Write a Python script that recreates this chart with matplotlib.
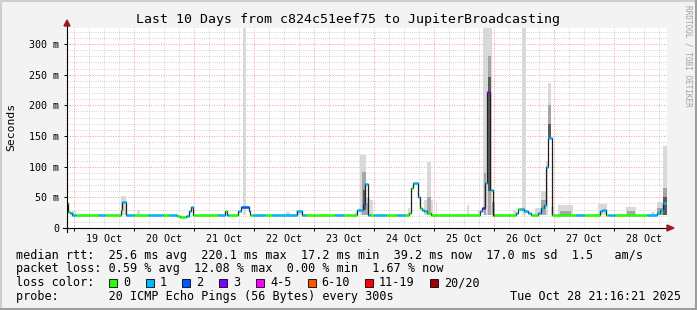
import matplotlib
matplotlib.use("Agg")
import matplotlib.pyplot as plt
from matplotlib.patches import Rectangle, Polygon
from matplotlib.lines import Line2D

W, H = 697, 310
MONO = "DejaVu Sans Mono"

# ---------------- data (time in hours since 18 Oct 21:16:21) ----------------
seg_start_h = [0.0, 0.4, 1.2, 2.0, 3.6, 12.8, 15.2, 21.4, 22.0, 23.4, 26.8, 32.4, 38.4, 40.8,
               44.0, 45.2, 47.6, 48.8, 49.4, 50.4, 60.4, 63.2, 63.8, 64.8, 68.4, 69.4, 72.6, 73.2,
               74.4, 79.2, 82.0, 91.8, 94.0, 95.6, 107.2, 110.4, 116.0, 118.2, 119.2, 120.2, 121.2,
               122.8, 127.4, 132.0, 135.2, 136.6, 137.4, 138.4, 140.2, 141.2, 141.8, 142.8, 144.0,
               145.6, 165.2, 166.0, 167.0, 168.0, 169.0, 170.2, 170.8, 179.6, 180.4, 181.2, 182.8,
               184.4, 185.6, 188.4, 189.6, 190.8, 191.6, 192.4, 193.8, 203.6, 206.8, 213.2, 214.0,
               215.4, 216.4, 219.2, 231.8, 236.0, 237.2, 238.4]
median_ms = [41, 26, 24, 21, 21, 21, 21, 29, 43, 21, 21, 21, 21, 21,
             19, 17.5, 19, 28, 35, 21, 21, 28, 21, 21, 28, 34, 27, 21,
             21, 21, 21, 27, 21, 21, 21, 21, 30, 39, 72, 21, 21,
             21, 21, 21, 21, 24, 66, 74, 51, 33, 29, 27, 24,
             21, 27, 32, 73, 221, 62, 21, 21, 25, 30.5, 30.5, 27,
             24, 21, 24, 32, 37.5, 100, 146, 21, 21, 21, 27, 30,
             21, 21, 21, 21, 24, 29, 40]
loss_pings = [0, 0, 1, 1, 0, 1, 0, 0, 1, 1, 0, 1, 0, 1,
              0, 0, 1, 1, 1, 0, 1, 0, 1, 0, 1, 2, 1, 0,
              1, 0, 1, 1, 1, 0, 1, 0, 1, 2, 1, 1, 0,
              1, 0, 1, 0, 0, 0, 1, 1, 0, 1, 1, 0,
              0, 1, 3, 1, 3, 1, 20, 0, 1, 0, 1, 1,
              1, 0, 1, 1, 1, 1, 1, 0, 1, 0, 1, 1,
              0, 1, 0, 1, 1, 1, 1]
end_h = 240.0

# smoke: start h, end h, low ms, high ms, shade (0 light, 1 mid, 2 dark)
smoke_t0 = [1.9, 21.6, 27.9, 70.3, 87.6, 91.6, 115.2, 117.2, 118.0, 118.4, 119.6, 119.6, 121.2,
            136.4, 142.8, 143.9, 143.9, 145.6, 147.4, 160.0, 164.4, 166.3, 166.6, 167.6, 168.3,
            168.5, 169.8, 178.4, 181.9, 187.2, 189.6, 189.6, 191.6, 192.3, 192.3, 192.3, 193.6,
            196.3, 197.0, 212.4, 223.5, 224.0, 233.6, 236.0, 236.0, 238.4, 238.4, 238.4]
smoke_t1 = [3.6, 23.6, 29.2, 71.6, 89.2, 94.4, 116.4, 119.6, 119.6, 119.6, 121.2, 120.8, 122.4,
            137.2, 144.0, 145.6, 145.6, 146.4, 148.2, 160.8, 165.6, 167.6, 167.6, 169.8, 169.6,
            169.4, 171.2, 179.6, 183.6, 189.6, 191.6, 191.6, 192.3, 193.6, 193.6, 193.6, 194.8,
            202.3, 201.6, 216.0, 227.6, 227.2, 235.2, 238.4, 238.4, 240.0, 240.0, 240.0]
smoke_lo = [21, 21, 21, 21, 21, 21, 21, 21, 21, 30, 21, 21, 21,
            21, 21, 21, 21, 21, 21, 21, 21, 21, 21, 21, 21,
            60, 21, 21, 21, 21, 21, 21, 21, 146, 146, 146, 21,
            21, 21, 21, 21, 21, 21, 21, 21, 21, 21, 21]
smoke_hi = [27, 52, 29, 330, 26, 30, 26, 119, 92, 62, 51, 40, 46,
            33, 45, 108, 51, 46, 42, 37, 30, 330, 90, 330, 280,
            246, 43, 29, 330, 33, 60, 45, 110, 236, 200, 170, 35,
            37, 28, 39, 34, 28, 26, 43, 33, 133, 65, 50]
smoke_shade = [0, 0, 0, 0, 0, 0, 0, 0, 1, 2, 0, 1, 0,
               0, 0, 0, 1, 0, 0, 0, 0, 0, 1, 0, 1,
               2, 1, 0, 0, 0, 0, 1, 0, 0, 1, 2, 0,
               0, 1, 0, 0, 1, 0, 0, 1, 0, 1, 2]

loss_levels = [0, 1, 2, 3, 4, 6, 11, 20]
loss_labels = ["0", "1", "2", "3", "4-5", "6-10", "11-19", "20/20"]
loss_colors = ["#26ff00", "#00b8ff", "#0059ff", "#7e00ff", "#ff00ff", "#ff5500", "#ff0000", "#a00000"]

day_labels = ["19 Oct", "20 Oct", "21 Oct", "22 Oct", "23 Oct", "24 Oct", "25 Oct", "26 Oct", "27 Oct", "28 Oct"]
first_midnight_h = 24 - (21 + 16 / 60 + 21 / 3600)

title = "Last 10 Days from c824c51eef75 to JupiterBroadcasting"
stat_lines = ["median rtt:  25.6 ms avg  220.1 ms max  17.2 ms min  39.2 ms now  17.0 ms sd  1.5   am/s",
              "packet loss: 0.59 % avg  12.08 % max  0.00 % min  1.67 % now"]
probe_text = "probe:       20 ICMP Echo Pings (56 Bytes) every 300s"
stamp_text = "Tue Oct 28 21:16:21 2025"

# ---------------- helpers ----------------
def fx(x):
    return x / W

def fy(y):
    return 1 - y / H

def loss_color(n):
    col = loss_colors[0]
    for lv, c in zip(loss_levels, loss_colors):
        if n >= lv:
            col = c
    return col

fig = plt.figure(figsize=(W / 100, H / 100), dpi=100, facecolor="#f3f3f3")

PL, PR, PT, PB = 67, 667, 28, 228
ax = fig.add_axes([fx(PL), fy(PB), fx(PR - PL), (PB - PT) / H])
ax.set_facecolor("white")
ax.set_xlim(0, end_h)
ax.set_ylim(0, (PB - PT) / (184 / 300))
for s in ax.spines.values():
    s.set_visible(False)

# grid
ymax = ax.get_ylim()[1]
for v in range(10, int(ymax) + 1, 10):
    if v % 50:
        ax.axhline(v, color="#c4c4c4", lw=0.6, ls=(0, (1, 1.6)), zorder=0.5)
h = first_midnight_h - 24
while h < end_h:
    for k in range(1, 4):
        t = h + 6 * k
        if 0 < t < end_h:
            ax.axvline(t, color="#c4c4c4", lw=0.6, ls=(0, (1, 1.6)), zorder=0.5)
    h += 24
for v in range(50, int(ymax) + 1, 50):
    ax.axhline(v, color="#f59a9a", lw=0.7, ls=(0, (1, 1.6)), zorder=0.6)
midnights = [first_midnight_h + 24 * i for i in range(len(day_labels))]
for m in midnights:
    ax.axvline(m, color="#f59a9a", lw=0.7, ls=(0, (1, 1.6)), zorder=0.6)

# smoke
shade_cols = ["#d9d9d9", "#a6a6a6", "#5a5a5a"]
for level in range(3):
    for t0, t1, lo, hi, sh in zip(smoke_t0, smoke_t1, smoke_lo, smoke_hi, smoke_shade):
        if sh == level:
            ax.bar(t0, hi - lo, width=t1 - t0, bottom=lo, align="edge",
                   color=shade_cols[sh], linewidth=0, zorder=1 + level * 0.1)

# median line (black step) + loss coloured segments
xs = seg_start_h + [end_h]
ys = median_ms + [median_ms[-1]]
ax.step(xs, ys, where="post", color="#202020", lw=0.9, zorder=2)
for i, (t0, m, n) in enumerate(zip(seg_start_h, median_ms, loss_pings)):
    t1 = xs[i + 1]
    ax.plot([t0, t1], [m, m], color=loss_color(n), lw=1.8, solid_capstyle="butt", zorder=3)

# ticks
ax.set_yticks(range(0, 301, 50))
ax.set_yticklabels(["0"] + [f"{v} m" for v in range(50, 301, 50)])
ax.set_xticks(midnights)
ax.set_xticklabels([""] * len(midnights))
ax.set_xticks([m + 12 for m in midnights], minor=True)
ax.set_xticklabels(day_labels, minor=True)
ax.tick_params(axis="y", which="major", length=2, width=0.7, pad=3.6, labelsize=7.2,
               direction="out", color="black")
ax.tick_params(axis="x", which="major", length=2.5, width=0.7, direction="out", color="black")
ax.tick_params(axis="x", which="minor", length=0, pad=4.3, labelsize=7.2)
for lab in ax.get_yticklabels() + ax.get_xticklabels(minor=True):
    lab.set_fontfamily(MONO)

# axis lines and arrows
fig.add_artist(Line2D([fx(63), fx(668)], [fy(PB), fy(PB)], color="black", lw=0.8, zorder=5))
fig.add_artist(Line2D([fx(PL), fx(PL)], [fy(232), fy(25)], color="black", lw=0.8, zorder=5))
fig.add_artist(Polygon([(fx(667), fy(225)), (fx(667), fy(231)), (fx(674), fy(PB))],
                       closed=True, color="#a01818", zorder=6))
fig.add_artist(Polygon([(fx(64), fy(26)), (fx(70), fy(26)), (fx(PL), fy(20))],
                       closed=True, color="#a01818", zorder=6))

# texts
fig.text(fx(348.5), fy(19), title, ha="center", va="center", fontsize=9.5, family=MONO)
fig.text(fx(11), fy(127), "Seconds", rotation=90, ha="center", va="center", fontsize=8.2, family=MONO)
fig.text(fx(688), fy(5), "RRDTOOL / TOBI OETIKER", rotation=270, ha="center", va="top",
         fontsize=5.6, family=MONO, color="#a0a0a0")

LFS = 8.5
fig.text(fx(16), fy(255), stat_lines[0], ha="left", va="center", fontsize=LFS, family=MONO)
fig.text(fx(16), fy(268.5), stat_lines[1], ha="left", va="center", fontsize=LFS, family=MONO)
fig.text(fx(16), fy(282.5), "loss color:", ha="left", va="center", fontsize=LFS, family=MONO)
box_x = [109, 146, 182, 219, 256, 307.5, 365, 430]
for bx, lab, col in zip(box_x, loss_labels, loss_colors):
    fig.add_artist(Rectangle((fx(bx), fy(286.5)), fx(8), 8 / H, facecolor=col,
                             edgecolor="black", lw=0.6))
    fig.text(fx(bx + 14), fy(282.5), lab, ha="left", va="center", fontsize=LFS, family=MONO)
fig.text(fx(16), fy(296.5), probe_text, ha="left", va="center", fontsize=LFS, family=MONO)
fig.text(fx(681), fy(296.5), stamp_text, ha="right", va="center", fontsize=LFS, family=MONO)

# 3d-ish border
fig.add_artist(Line2D([0, 1], [fy(1), fy(1)], color="#cfcfcf", lw=1.5))
fig.add_artist(Line2D([fx(1), fx(1)], [0, 1], color="#cfcfcf", lw=1.5))
fig.add_artist(Line2D([0, 1], [fy(309), fy(309)], color="#9e9e9e", lw=1.5))
fig.add_artist(Line2D([fx(696), fx(696)], [0, 1], color="#9e9e9e", lw=1.5))

fig.savefig("out.png", dpi=100, facecolor=fig.get_facecolor())
